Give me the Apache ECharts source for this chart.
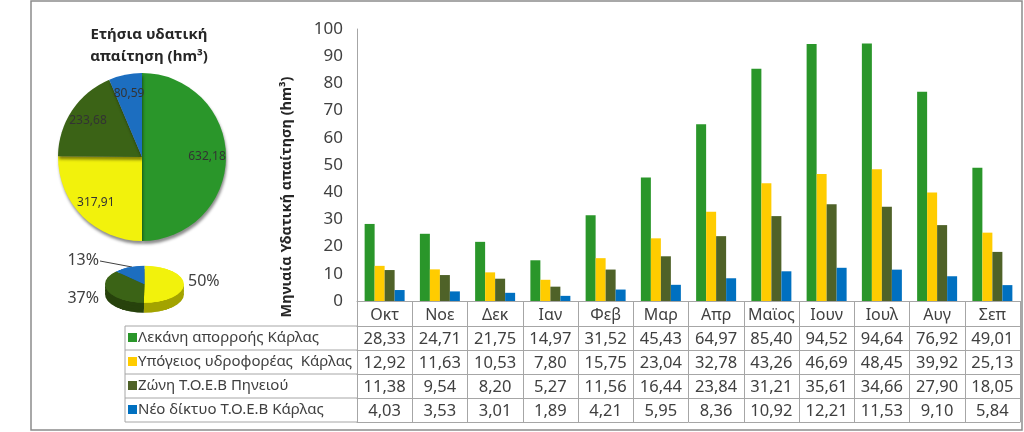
<!DOCTYPE html>
<html><head><meta charset="utf-8">
<script src="https://cdn.jsdelivr.net/npm/echarts@6/dist/echarts.min.js"></script>
<style>
html,body{margin:0;padding:0;background:#fff;}
#main{position:absolute;left:0;top:0;width:1024px;height:432px;}
#mini{position:absolute;left:100px;top:250px;width:90px;height:140px;transform:scaleY(0.47);transform-origin:0 0;}
</style></head><body>
<div id="main"></div><div id="mini"></div>
<script>
// ---- data ----
const months = ['Οκτ','Νοε','Δεκ','Ιαν','Φεβ','Μαρ','Απρ','Μαϊος','Ιουν','Ιουλ','Αυγ','Σεπ'];
const seriesNames = ['Λεκάνη απορροής Κάρλας','Υπόγειος υδροφορέας  Κάρλας','Ζώνη Τ.Ο.Ε.Β Πηνειού','Νέο δίκτυο Τ.Ο.Ε.Β Κάρλας'];
const karlaBasin = [28.33,24.71,21.75,14.97,31.52,45.43,64.97,85.40,94.52,94.64,76.92,49.01];
const karlaAquifer = [12.92,11.63,10.53,7.80,15.75,23.04,32.78,43.26,46.69,48.45,39.92,25.13];
const pineiosZone = [11.38,9.54,8.20,5.27,11.56,16.44,23.84,31.21,35.61,34.66,27.90,18.05];
const karlaNewNetwork = [4.03,3.53,3.01,1.89,4.21,5.95,8.36,10.92,12.21,11.53,9.10,5.84];
const annualTotals = [632.18,317.91,233.68,80.59];
const yMin = 0, yMax = 100, yInterval = 10;
const pieTitle = ['Ετήσια υδατική','απαίτηση (hm³)'];
const yTitle = 'Μηνιαία Υδατική απαίτηση (hm³)';

// ---- styles ----
const FONT = 'Noto Sans';
const barColors = ['#2A962A','#FFCC00','#4F6228','#0070C0'];
const pieColors = ['#2A962A','#F2F20C','#3B6316','#1C6EC0'];
const miniSide = ['#A3A300','#27420C','#10487E'];
const lineColor = '#A6A6A6';
const textColor = '#404040';
const GRID = {left:357, right:4, top:29, bottom:131};
const AXIS_Y = 432 - GRID.bottom;
const HEAD_H = 25, ROW_H = 24;

const fmt = v => v.toFixed(2).replace('.', ',');
const rows = [karlaBasin, karlaAquifer, pineiosZone, karlaNewNetwork];

const chart = echarts.init(document.getElementById('main'));

const xAxes = [{
  type:'category', data: months, position:'bottom',
  axisLine:{lineStyle:{color:lineColor}},
  axisTick:{show:true, length: HEAD_H + 4*ROW_H, interval:0, lineStyle:{color:lineColor}},
  axisLabel:{interval:0, margin:6, fontSize:16, color:textColor, fontFamily:FONT}
}];
rows.forEach((r,i)=>{
  xAxes.push({
    type:'category', data: r.map(fmt), position:'bottom', offset: HEAD_H + i*ROW_H,
    axisLine:{lineStyle:{color:lineColor}}, axisTick:{show:false},
    axisLabel:{interval:0, margin:5, fontSize:16.5, color:textColor, fontFamily:FONT}
  });
});
xAxes.push({
  type:'category', data: months, position:'bottom', offset: HEAD_H + 4*ROW_H,
  axisLine:{lineStyle:{color:lineColor}}, axisTick:{show:false}, axisLabel:{show:false}
});

const legends = seriesNames.map((n,i)=>({
  data:[{name:n, itemStyle:{color:barColors[i]}}],
  orient:'horizontal', left:128, top: AXIS_Y + HEAD_H + i*ROW_H + 4,
  padding:0, itemWidth:9, itemHeight:9, icon:'rect', selectedMode:false,
  textStyle:{fontSize:15, color:textColor, fontFamily:FONT, padding:[0,0,0,-4]}
}));

const tableLeft = 125;
const graphic = [
  {type:'rect', shape:{x:31, y:1, width:991, height:429}, style:{fill:'none', stroke:'#8C8C8C', lineWidth:1.5}, silent:true},
  {type:'line', shape:{x1:tableLeft, y1:AXIS_Y+HEAD_H, x2:tableLeft, y2:AXIS_Y+HEAD_H+4*ROW_H}, style:{stroke:lineColor, lineWidth:1}},
  {type:'text', x:287, y:197, rotation:Math.PI/2, style:{text:yTitle, align:'center', verticalAlign:'middle', font:'bold 14.5px "'+FONT+'"', fill:'#262626'}},
  {type:'text', x:149, y:24, style:{text:pieTitle.join('\n'), align:'center', verticalAlign:'top', lineHeight:22, font:'bold 15px "'+FONT+'"', fill:'#262626'}}
];
for (let i=0;i<=4;i++){
  const y = AXIS_Y + HEAD_H + i*ROW_H;
  graphic.push({type:'line', shape:{x1:tableLeft, y1:y, x2:GRID.left, y2:y}, style:{stroke:lineColor, lineWidth:1}});
}
// mini pie labels (percent of the three sub-sources)
const miniVals = annualTotals.slice(1);
const miniSum = miniVals.reduce((a,b)=>a+b,0);
const pct = v => Math.round(v/miniSum*100) + '%';
const miniLabelPos = [[188,281,'left'],[99,298,'right'],[99,260,'right']];
miniVals.forEach((v,i)=>{
  graphic.push({type:'text', x:miniLabelPos[i][0], y:miniLabelPos[i][1], style:{text:pct(v), align:miniLabelPos[i][2], verticalAlign:'middle', font:'16px "'+FONT+'"', fill:textColor}});
});
graphic.push({type:'line', shape:{x1:100, y1:261, x2:132, y2:267}, style:{stroke:'#404040', lineWidth:1}});

const pieData = annualTotals.map((v,i)=>({name:'p'+i, value:v, itemStyle:{color:pieColors[i]}}));

chart.setOption({
  animation:false,
  grid: GRID,
  legend: legends,
  xAxis: xAxes,
  yAxis: {type:'value', min:yMin, max:yMax, interval:yInterval,
    axisLine:{show:true, lineStyle:{color:lineColor}}, axisTick:{show:false}, splitLine:{show:false},
    axisLabel:{margin:14, fontSize:17, color:textColor, fontFamily:FONT}},
  graphic: graphic,
  series: [
    ...rows.map((r,i)=>({type:'bar', name:seriesNames[i], data:r, xAxisIndex:0, yAxisIndex:0,
      barWidth:10, barGap:'0%', itemStyle:{color:barColors[i]}, emphasis:{disabled:true}})),
    {type:'pie', center:[142,157], radius:84, startAngle:90, clockwise:true, data:pieData,
      label:{show:false}, labelLine:{show:false}, silent:true, emphasis:{disabled:true},
      itemStyle:{borderWidth:0, shadowColor:'rgba(0,0,0,0.45)', shadowBlur:3, shadowOffsetX:1, shadowOffsetY:3}},
    {type:'pie', center:[142,157], radius:[40,84], startAngle:90, clockwise:true,
      data: annualTotals.map((v,i)=>({name:'q'+i, value:v, itemStyle:{color:'rgba(0,0,0,0)'}})),
      label:{show:true, position:'inside', formatter: p => fmt(p.value), fontSize:12, color:'#333', fontFamily:FONT},
      labelLine:{show:false}, silent:true, emphasis:{disabled:true}}
  ]
});

const mini = echarts.init(document.getElementById('mini'));
const miniSeries = [21,14,7].map(off=>({type:'pie', center:[44.5, 73+off], radius:39.5, startAngle:90,
  data: miniVals.map((v,i)=>({value:v, itemStyle:{color:miniSide[i], borderWidth:0}})),
  label:{show:false}, labelLine:{show:false}, silent:true, emphasis:{disabled:true}}));
miniSeries.push({type:'pie', center:[44.5,73], radius:39.5, startAngle:90,
  data: miniVals.map((v,i)=>({value:v, itemStyle:{color:pieColors[i+1], borderWidth:0}})),
  label:{show:false}, labelLine:{show:false}, silent:true, emphasis:{disabled:true}});
mini.setOption({animation:false, series: miniSeries});
</script></body></html>
